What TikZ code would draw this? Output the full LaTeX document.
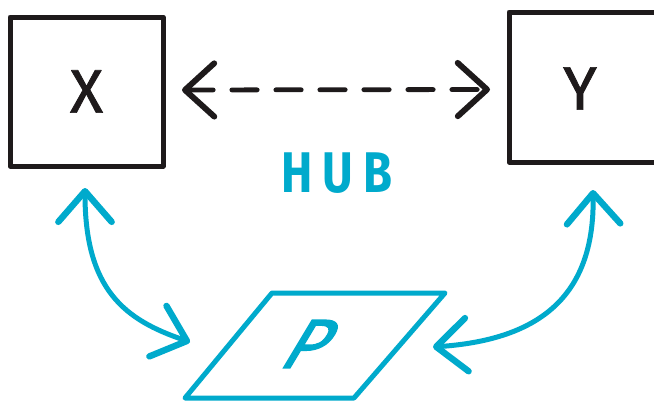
\documentclass[tikz,border=0pt]{standalone}
\usepackage{fontspec}
\setmainfont{Fira Sans}
\usetikzlibrary{arrows.meta}
\definecolor{ink}{HTML}{1E1A1B}
\definecolor{hubblue}{HTML}{00AACC}
\begin{document}
\begin{tikzpicture}[x=0.75pt,y=-0.75pt,
  box/.style={draw=ink, line width=3.75pt, line join=round, inner sep=0pt},
  letter/.style={text=ink, font=\fontsize{46}{46}\selectfont\addfontfeature{FakeBold=1.2}, inner sep=0pt},
  inkbarb/.tip={Straight Barb[length=22pt,width=40pt,round,line width=4.4pt]},
  bluebarb/.tip={Straight Barb[length=23pt,width=40pt,round,line width=4.8pt]},
  link/.style={draw=ink, line width=3.6pt, line cap=round,
    dash pattern=on 19pt off 14pt, inkbarb-inkbarb},
  hubarrow/.style={draw=hubblue, line width=3.75pt, line cap=round, bluebarb-bluebarb},
  plate/.style={draw=hubblue, line width=3.75pt, line join=round}]
\useasboundingbox (0,0) rectangle (654,407);
\clip (0,0) rectangle (654,407);
\fill[white] (0,0) rectangle (654,407);

% the two boxes
\node[box, letter, minimum width=114.75pt, minimum height=111.75pt] (X) at (86.5,91.5) {X};
\node[box, minimum width=128.25pt, minimum height=112.5pt] (Y) at (594.5,87) {};
\node[letter] (Ylabel) at (580,88.5) {Y};

% dashed two-way link between the boxes
\draw[link] ([shift={(16.5,-1.5)}]X.east) -- ([shift={(-16.5,2.5)}]Y.west);

% hub label
\node[text=hubblue, font=\fontsize{43}{43}\selectfont\bfseries, inner sep=0pt]
  (hub) at (337,173) {\scalebox{0.82}[1]{H\kern9pt U\kern9pt B}};

% the plate P
\draw[plate] (272,293) -- (445,293) -- (354,398) -- (185,398) -- cycle;
\node[text=hubblue, font=\fontsize{52}{52}\selectfont\addfontfeature{FakeBold=2}, inner sep=0pt,
  xslant=0.6, transform shape] (P) at (311,344) {P};

% curved two-way arrows from the boxes to the plate
\coordinate (xa) at ([shift={(-1.5,19.5)}]X.south);
\coordinate (pl) at (190,342);
\coordinate (ya) at (593,190);
\coordinate (pr) at (433,347);
\draw[hubarrow] (xa) .. controls (85,290) and (125,320) .. (pl);
\draw[hubarrow] (ya) .. controls (595,300) and (535,340) .. (pr);
\end{tikzpicture}
\end{document}
